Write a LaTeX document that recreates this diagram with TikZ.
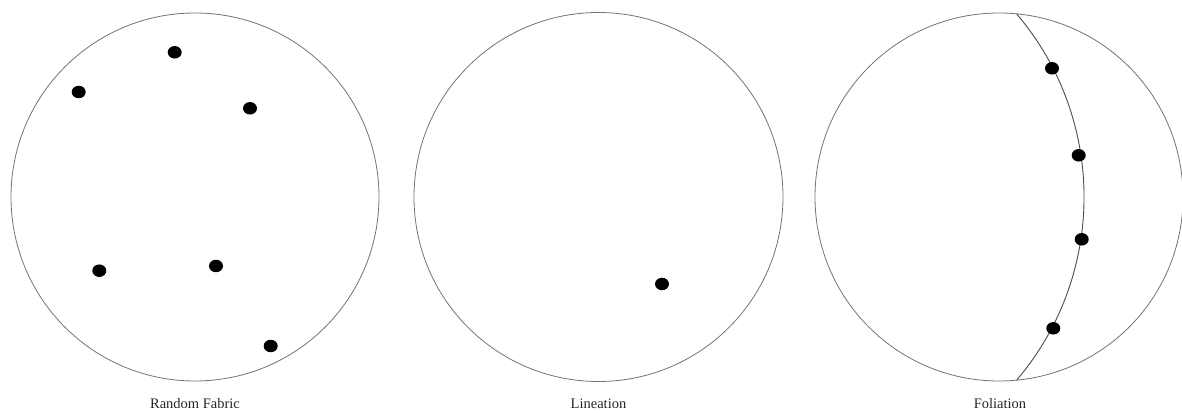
\documentclass[tikz,border=0pt]{standalone}
\usepackage{fontspec}
\setmainfont{Liberation Serif}
\usetikzlibrary{shapes.geometric}
\begin{document}
\begin{tikzpicture}[x=1pt,y=1pt,
  net/.style={draw=black!55,line width=0.8pt,circle,inner sep=0pt,minimum size=368pt},
  pole/.style={ellipse,fill=black,inner sep=0pt,minimum width=14pt,minimum height=12.5pt},
  plane/.style={draw=black!70,line width=0.9pt},
  caption/.style={anchor=base,font=\fontsize{14.5}{16}\selectfont,text=black!85}]
\useasboundingbox (0,0) rectangle (1182,412);
% nets
\node[net] (n1) at (195,215) {};
\node[net,minimum size=369pt] (n2) at (598.5,215) {};
\node[net] (n3) at (999,215) {};
% random fabric
\node[pole] (a1) at (174.7,359.7) {};
\node[pole] (a2) at (78.7,320) {};
\node[pole] (a3) at (250,303.7) {};
\node[pole] (a4) at (99.3,141.3) {};
\node[pole] (a5) at (216,146) {};
\node[pole] (a6) at (270.7,66) {};
% lineation
\node[pole] (b1) at (662,128) {};
% foliation
\coordinate (ftop) at (1016.7,398);
\draw[plane] (ftop) arc[start angle=40.4,end angle=-40.4,radius=282.4];
\node[pole] (c1) at (1052,343.7) {};
\node[pole] (c2) at (1078.7,256.7) {};
\node[pole] (c3) at (1081.7,172.7) {};
\node[pole] (c4) at (1053.3,83.7) {};
% captions
\node[caption] (t1) at (195,3.5) {Random Fabric};
\node[caption] (t2) at (598.5,3.5) {Lineation};
\node[caption] (t3) at (1000,3.5) {Foliation};
\end{tikzpicture}
\end{document}
